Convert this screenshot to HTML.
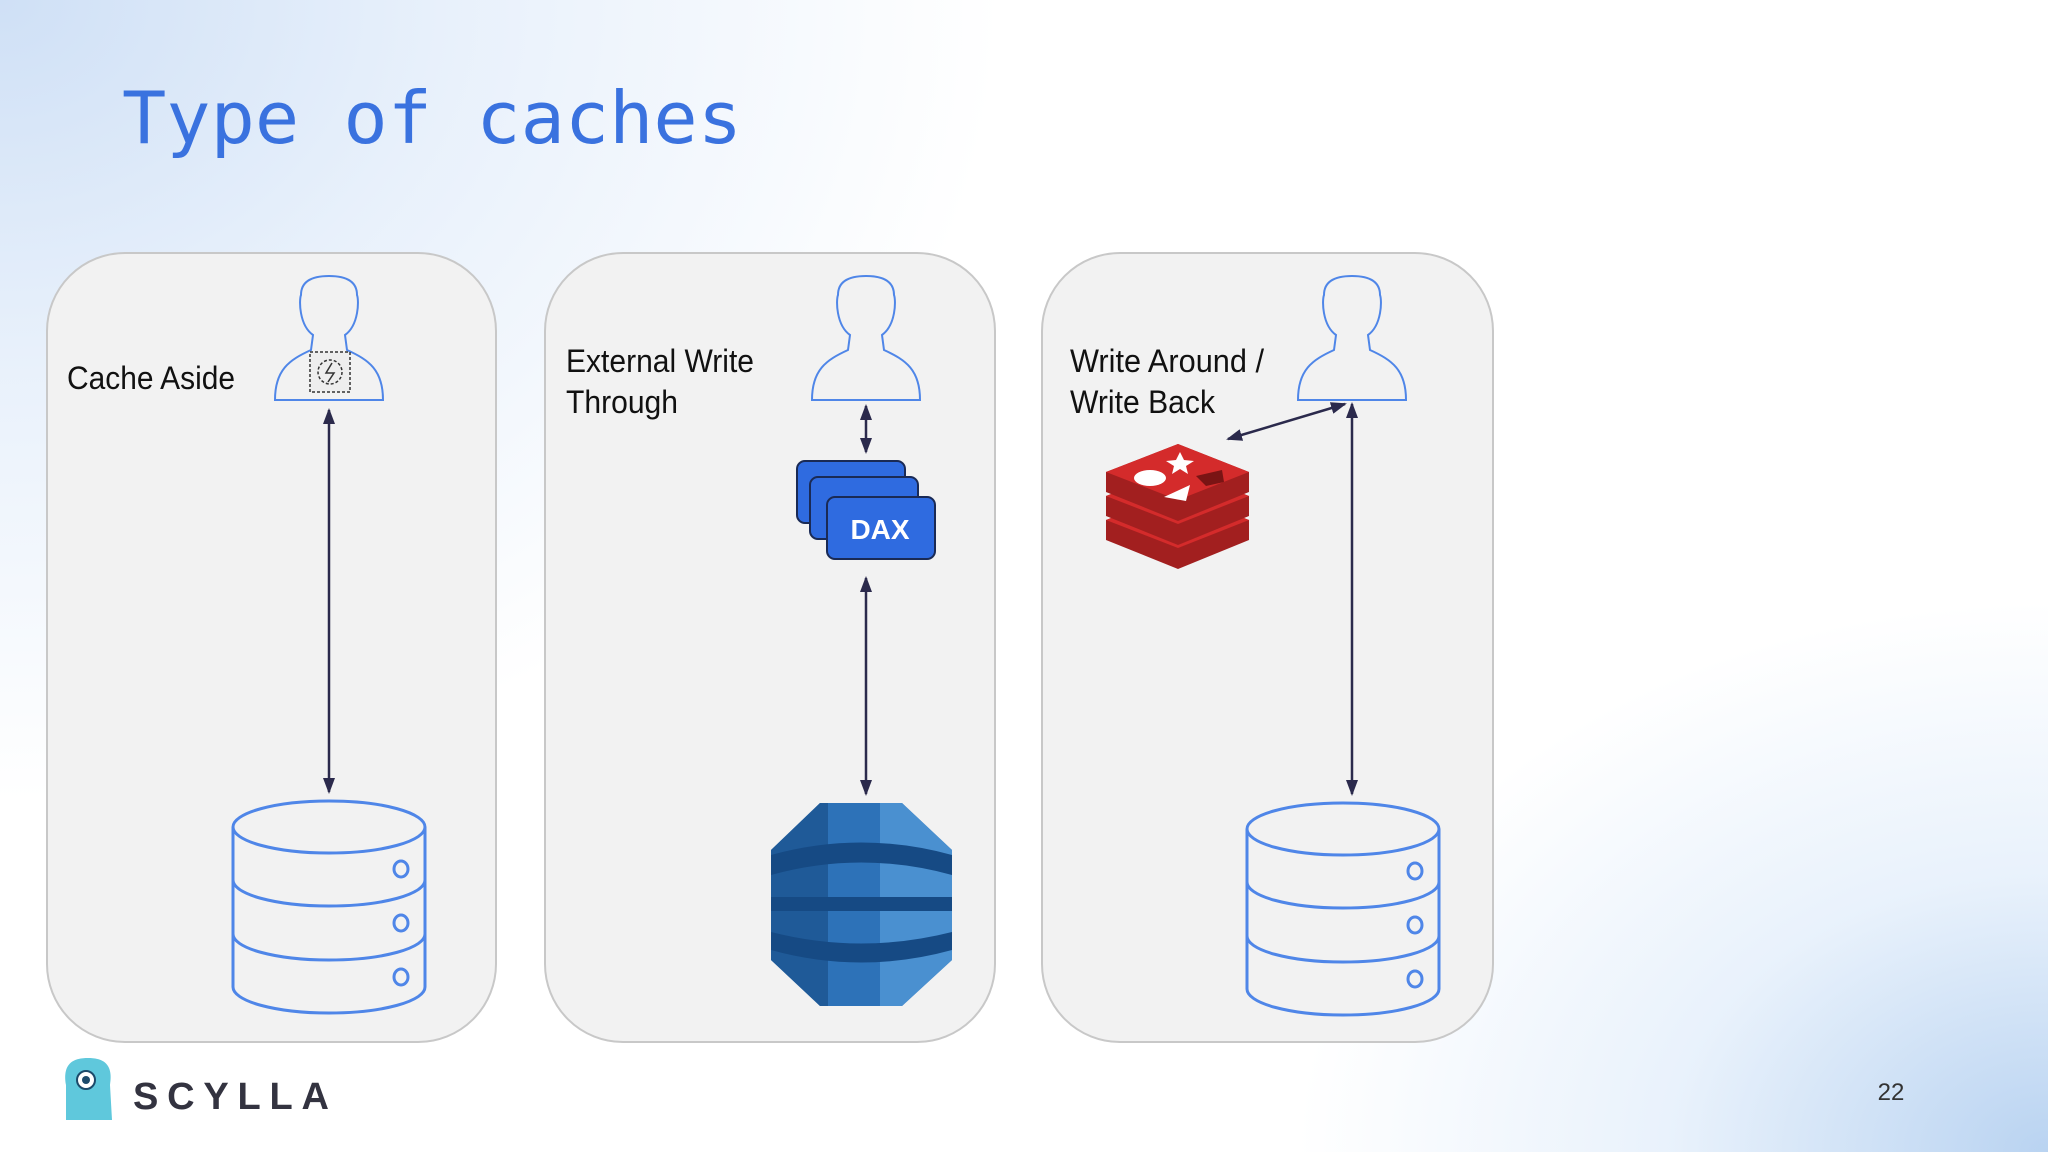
<!DOCTYPE html>
<html><head><meta charset="utf-8"><style>
html,body{margin:0;padding:0;width:2048px;height:1152px;overflow:hidden}
body{background:
radial-gradient(ellipse 1000px 800px at 0px 0px, #cfe0f6 0%, rgba(220,233,249,0.65) 45%, rgba(255,255,255,0) 100%),
radial-gradient(ellipse 750px 550px at 2048px 1152px, #b9d3f1 0%, rgba(210,228,248,0.5) 50%, rgba(255,255,255,0) 100%),
#ffffff;font-family:"Liberation Sans",sans-serif}
svg{position:absolute;left:0;top:0}
</style></head><body>
<svg width="2048" height="1152" viewBox="0 0 2048 1152">
<defs>
<marker id="ah2" markerWidth="16" markerHeight="16" refX="14" refY="8" orient="auto-start-reverse" markerUnits="userSpaceOnUse" viewBox="0 0 16 16">
<path d="M0,2 L16,8 L0,14 Z" fill="#2b2a4c"/></marker>
<g id="person"><path d="M-54,124 C-54,94 -40,84 -18,74 L-16,59 C-30,49 -30,24 -28,19 C-28,4 -15,0 0,0 C15,0 28,4 28,19 C30,24 30,49 16,59 L18,74 C40,84 54,94 54,124 Z" fill="none" stroke="#4f86e8" stroke-width="2"/></g>
<g id="db" fill="none" stroke="#4f86e8" stroke-width="3">
<ellipse cx="0" cy="30" rx="96" ry="26"/>
<path d="M-96,30 L-96,190 A96,26 0 0 0 96,190 L96,30"/>
<path d="M-96,83 A96,26 0 0 0 96,83"/>
<path d="M-96,137 A96,26 0 0 0 96,137"/>
<ellipse cx="72" cy="72" rx="7" ry="8"/>
<ellipse cx="72" cy="126" rx="7" ry="8"/>
<ellipse cx="72" cy="180" rx="7" ry="8"/>
</g>
</defs>
<text x="122" y="143" font-family="DejaVu Sans Mono, monospace" font-size="72" fill="#3a72df" textLength="620" lengthAdjust="spacingAndGlyphs">Type of caches</text>

<rect x="47" y="253" width="449" height="789" rx="78" fill="#f2f2f2" stroke="#c8c8c8" stroke-width="2"/>
<rect x="545" y="253" width="450" height="789" rx="78" fill="#f2f2f2" stroke="#c8c8c8" stroke-width="2"/>
<rect x="1042" y="253" width="451" height="789" rx="78" fill="#f2f2f2" stroke="#c8c8c8" stroke-width="2"/>

<g font-size="32" fill="#111">
<text x="67" y="389" textLength="168" lengthAdjust="spacingAndGlyphs">Cache Aside</text>
<text x="566" y="372" textLength="188" lengthAdjust="spacingAndGlyphs">External Write</text>
<text x="566" y="413" textLength="112" lengthAdjust="spacingAndGlyphs">Through</text>
<text x="1070" y="372" textLength="194" lengthAdjust="spacingAndGlyphs">Write Around /</text>
<text x="1070" y="413" textLength="145" lengthAdjust="spacingAndGlyphs">Write Back</text>
</g>

<use href="#person" x="329" y="276"/>
<use href="#person" x="866" y="276"/>
<use href="#person" x="1352" y="276"/>
<rect x="310" y="352" width="40" height="40" fill="#eee" stroke="#333" stroke-width="1.5" stroke-dasharray="3 2"/>
<circle cx="330" cy="372" r="12" fill="none" stroke="#333" stroke-width="1.5" stroke-dasharray="3 2"/>
<path d="M332,363 L326,373 L334,373 L328,382" fill="none" stroke="#333" stroke-width="1.5"/>

<g stroke="#2b2a4c" stroke-width="2.5">
<line x1="329" y1="410" x2="329" y2="792" marker-start="url(#ah2)" marker-end="url(#ah2)"/>
<line x1="866" y1="406" x2="866" y2="452" marker-start="url(#ah2)" marker-end="url(#ah2)"/>
<line x1="866" y1="578" x2="866" y2="794" marker-start="url(#ah2)" marker-end="url(#ah2)"/>
<line x1="1352" y1="404" x2="1352" y2="794" marker-start="url(#ah2)" marker-end="url(#ah2)"/>
<line x1="1345" y1="404" x2="1228" y2="439" marker-start="url(#ah2)" marker-end="url(#ah2)"/>
</g>

<g stroke="#1a2a55" stroke-width="2">
<rect x="797" y="461" width="108" height="62" rx="8" fill="#2f6be0"/>
<rect x="810" y="477" width="108" height="62" rx="8" fill="#2f6be0"/>
<rect x="827" y="497" width="108" height="62" rx="8" fill="#2f6be0"/>
</g>
<text x="880" y="539" text-anchor="middle" font-size="28" font-weight="bold" fill="#fff">DAX</text>

<g>
<path d="M820,803 L902,803 L952,850 L952,960 L902,1006 L820,1006 L771,960 L771,850 Z" fill="#2d72b8"/>
<path d="M902,803 L952,850 L952,960 L902,1006 L880,1006 L880,803 Z" fill="#4a90d0"/>
<path d="M820,803 L771,850 L771,960 L820,1006 L828,1006 L828,803 Z" fill="#1f5a98"/>
<path d="M771,855 Q861,830 952,855 L952,875 Q861,850 771,875 Z" fill="#164a84"/>
<rect x="771" y="897" width="181" height="14" fill="#164a84"/>
<path d="M771,932 Q861,955 952,932 L952,950 Q861,975 771,950 Z" fill="#164a84"/>
</g>

<g>
<path d="M1106,520 L1178,492 L1249,520 L1249,540 L1178,569 L1106,540 Z" fill="#a21f1f"/>
<path d="M1106,520 L1178,548 L1249,520 L1178,492 Z" fill="#d42b2b"/>
<path d="M1106,496 L1178,468 L1249,496 L1249,516 L1178,545 L1106,516 Z" fill="#a21f1f"/>
<path d="M1106,496 L1178,524 L1249,496 L1178,468 Z" fill="#d42b2b"/>
<path d="M1106,472 L1178,444 L1249,472 L1249,492 L1178,521 L1106,492 Z" fill="#a21f1f"/>
<path d="M1106,472 L1178,500 L1249,472 L1178,444 Z" fill="#d42b2b"/>
<ellipse cx="1150" cy="478" rx="16" ry="8" fill="#fff"/>
<path d="M1180,452 L1184,460 L1194,461 L1186,466 L1188,474 L1180,469 L1172,474 L1174,466 L1166,461 L1176,460 Z" fill="#fff"/>
<path d="M1164,497 L1190,485 L1186,501 Z" fill="#fff"/>
<path d="M1196,476 L1222,470 L1224,482 L1206,486 Z" fill="#7a1414"/>
</g>

<use href="#db" x="329" y="797"/>
<use href="#db" x="1343" y="799"/>

<g>
<path d="M66,1085 C62,1062 75,1058 88,1058 C101,1058 114,1062 110,1085 L112,1120 L66,1120 Z" fill="#5fc8dc"/>
<circle cx="86" cy="1080" r="9" fill="#fff" stroke="#1c4a6a" stroke-width="2"/>
<circle cx="86" cy="1080" r="4" fill="#1c4a6a"/>
</g>
<text x="133" y="1109" font-size="38" font-weight="bold" fill="#333340" textLength="196" lengthAdjust="spacing">SCYLLA</text>
<text x="1891" y="1100" text-anchor="middle" font-size="24" fill="#333">22</text>
</svg>
</body></html>
